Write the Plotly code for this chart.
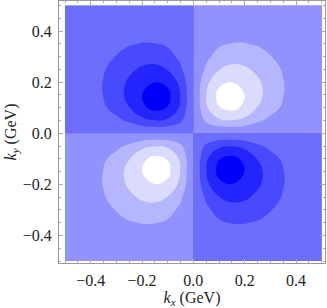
import numpy as np
import plotly.graph_objects as go

# grid coordinates of one quadrant (GeV, distance from the axes)
k_pos = [0.0, 0.05, 0.10, 0.15, 0.20, 0.25, 0.30, 0.35, 0.40, 0.45, 0.50]

# estimated |value| in a quadrant (rows: |ky|, columns: |kx|); the plot is
# positive for kx*ky > 0 and negative for kx*ky < 0
quad = [
    [0, 0.000, 0.000, 0.000, 0.000, 0.000, 0.000, 0.000, 0.000, 0.000, 0.000],
    [0, 0.320, 0.496, 0.529, 0.468, 0.315, 0.210, 0.136, 0.080, 0.050, 0.033],
    [0, 0.496, 0.800, 0.886, 0.752, 0.531, 0.366, 0.232, 0.141, 0.092, 0.062],
    [0, 0.529, 0.886, 0.975, 0.806, 0.609, 0.440, 0.277, 0.178, 0.120, 0.083],
    [0, 0.468, 0.752, 0.806, 0.720, 0.582, 0.423, 0.278, 0.188, 0.134, 0.093],
    [0, 0.315, 0.531, 0.609, 0.582, 0.486, 0.354, 0.253, 0.183, 0.133, 0.096],
    [0, 0.210, 0.366, 0.440, 0.423, 0.354, 0.277, 0.214, 0.163, 0.123, 0.088],
    [0, 0.136, 0.232, 0.277, 0.278, 0.253, 0.214, 0.175, 0.139, 0.107, 0.080],
    [0, 0.080, 0.141, 0.178, 0.188, 0.183, 0.163, 0.139, 0.114, 0.088, 0.068],
    [0, 0.050, 0.092, 0.120, 0.134, 0.133, 0.123, 0.107, 0.088, 0.072, 0.056],
    [0, 0.033, 0.062, 0.083, 0.093, 0.096, 0.088, 0.080, 0.068, 0.056, 0.045],
]

# contour levels of |value|
levels = [0.27, 0.54, 0.81]
# band colours from |value| = 0 outward
pos_colors = ["#9292FE", "#B6B6FE", "#DBDBFE", "#FFFFFF"]   # kx*ky > 0
neg_colors = ["#6D6DFE", "#4949FD", "#2424FC", "#0000FA"]   # kx*ky < 0

tick_vals = [-0.4, -0.2, 0.0, 0.2, 0.4]


def step_scale(colors):
    n = len(colors)
    cs = []
    for i, c in enumerate(colors):
        lo = 0 if i == 0 else (i - 0.5) / (n - 1)
        hi = 1 if i == n - 1 else (i + 0.5) / (n - 1)
        cs.append([lo, c])
        cs.append([hi, c])
    return cs


q = np.array(quad)
kp = np.array(k_pos)
kmax = float(kp.max())

fig = go.Figure()
# (sign of kx, sign of ky, colours)
for sx, sy, cols in [(1, 1, pos_colors), (-1, 1, neg_colors),
                     (-1, -1, pos_colors), (1, -1, neg_colors)]:
    xs = kp if sx > 0 else -kp[::-1]
    ys = kp if sy > 0 else -kp[::-1]
    zz = q
    if sx < 0:
        zz = zz[:, ::-1]
    if sy < 0:
        zz = zz[::-1, :]
    fig.add_trace(go.Contour(
        x=xs, y=ys, z=zz,
        autocontour=False,
        contours=dict(start=levels[0], end=levels[-1],
                      size=levels[1] - levels[0],
                      coloring="fill", showlines=False),
        line=dict(width=0, smoothing=1.3),
        colorscale=step_scale(cols), showscale=False, hoverinfo="skip",
    ))

# backdrop under the data area so the joins between quadrants do not show white
fig.add_shape(type="rect", xref="x", yref="y", layer="below",
              x0=-kmax, x1=kmax, y0=-kmax, y1=kmax,
              fillcolor=neg_colors[0], line=dict(width=0))

font = dict(family="Liberation Serif, Times New Roman, serif", size=16, color="#222")
axis_common = dict(
    tickvals=tick_vals, tickformat=".1f",
    ticks="inside", ticklen=4, tickwidth=1, tickcolor="#aaa",
    minor=dict(dtick=0.05, tick0=0, ticks="inside", ticklen=2, tickcolor="#aaa"),
    showline=True, linecolor="#999", linewidth=1, mirror="allticks",
    showgrid=False, zeroline=False, tickfont=font, automargin=False,
    ticklabelstandoff=3,
)

fig.update_layout(
    width=327, height=308,
    margin=dict(l=59, r=2, t=1, b=45),
    paper_bgcolor="white", plot_bgcolor="white",
    showlegend=False,
    xaxis=dict(range=[-0.5234, 0.5129],
               title=dict(text="<i>k</i><sub><i>x</i></sub> (GeV)", font=font, standoff=2),
               **axis_common),
    yaxis=dict(range=[-0.5078, 0.518],
               title=dict(text="<i>k</i><sub><i>y</i></sub> (GeV)", font=font, standoff=2),
               **axis_common),
)

fig.write_html("out.html", config={"displayModeBar": False, "staticPlot": True},
               post_script="document.body.style.margin='0';")
